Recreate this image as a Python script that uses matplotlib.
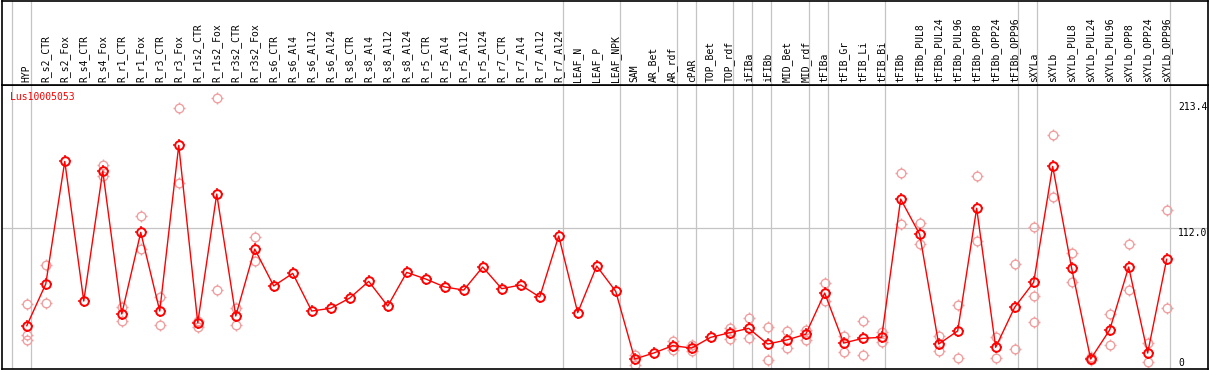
import matplotlib
matplotlib.use('Agg')
import matplotlib.pyplot as plt
from matplotlib.path import Path

# --- data ---
gene = "Lus10005053"

categories = [
    "HYP", "R_s2_CTR", "R_s2_Fox", "R_s4_CTR", "R_s4_Fox", "R_r1_CTR", "R_r1_Fox",
    "R_r3_CTR", "R_r3_Fox", "R_r1s2_CTR", "R_r1s2_Fox", "R_r3s2_CTR", "R_r3s2_Fox",
    "R_s6_CTR", "R_s6_Al4", "R_s6_Al12", "R_s6_Al24",
    "R_s8_CTR", "R_s8_Al4", "R_s8_Al12", "R_s8_Al24",
    "R_r5_CTR", "R_r5_Al4", "R_r5_Al12", "R_r5_Al24",
    "R_r7_CTR", "R_r7_Al4", "R_r7_Al12", "R_r7_Al24",
    "LEAF_N", "LEAF_P", "LEAF_NPK", "SAM", "AR_Bet", "AR_rdf", "cPAR",
    "TOP_Bet", "TOP_rdf", "iFIBa", "iFIBb", "MID_Bet", "MID_rdf",
    "tFIBa", "tFIB_Gr", "tFIB_Li", "tFIB_Bi",
    "tFIBb", "tFIBb_PUL8", "tFIBb_PUL24", "tFIBb_PUL96", "tFIBb_OPP8", "tFIBb_OPP24", "tFIBb_OPP96",
    "sXYLa", "sXYLb", "sXYLb_PUL8", "sXYLb_PUL24", "sXYLb_PUL96", "sXYLb_OPP8", "sXYLb_OPP24", "sXYLb_OPP96",
]

means = [
    33.9, 67.4, 165.7, 53.7, 158.0, 43.3, 108.8, 45.7, 178.6, 36.3, 139.5, 41.7, 95.4,
    65.8, 75.9, 45.7, 47.9, 56.1, 69.5, 49.7, 76.7, 71.4, 65.0, 62.5, 81.0,
    63.6, 66.6, 56.9, 105.9, 44.4, 81.8, 61.5, 7.2, 12.0, 17.9, 16.0,
    24.6, 28.3, 31.8, 19.2, 22.5, 27.0, 60.1, 20.0, 23.8, 24.6,
    135.5, 107.2, 19.2, 29.7, 128.1, 16.6, 48.7,
    68.7, 161.7, 80.0, 7.2, 30.5, 81.0, 12.0, 87.2,
]

replicates = [
    [51.1, 26.5, 22.5], [82.6, 52.1], [], [], [162.8, 154.0], [48.7, 37.7], [121.6, 95.2],
    [56.9, 34.5], [208.3, 148.1], [37.7, 33.1], [216.3, 62.3], [48.4, 34.7], [105.0, 85.6],
    [], [], [], [], [], [], [], [], [], [], [], [],
    [], [], [], [], [], [], [], [10.4, 2.4], [], [21.9, 14.4], [18.7, 13.4],
    [], [32.1, 23.5], [39.9, 23.8], [32.6, 6.4], [29.7, 15.8], [30.5, 22.7],
    [67.9, 53.7], [25.7, 12.6], [37.7, 10.2], [29.1, 20.6],
    [156.1, 115.2], [116.0, 99.2], [25.7, 13.4], [50.3, 8.0], [153.7, 101.6], [24.9, 8.0], [83.4, 15.2],
    [113.1, 57.5, 36.6], [186.8, 136.9], [92.2, 68.7], [8.6, 6.4], [43.3, 18.2], [99.2, 62.3],
    [20.3, 4.6], [126.5, 47.9],
]

# first category of each separated group (last entry closes the table)
group_starts = [0, 1, 29, 32, 35, 36, 38, 39, 40, 42, 43, 46, 53, 54, 61]
ytick_vals = [213.4, 112.0]

# --- layout ---
W, H = 1209, 370
fig = plt.figure(figsize=(W / 100, H / 100), dpi=100)

def box(l, t, r, b):
    return [l / W, 1 - b / H, (r - l) / W, (b - t) / H]

ax = fig.add_axes(box(1.5, 85, 1207.5, 368.5))
hx = fig.add_axes(box(1.5, 0.5, 1207.5, 85), sharex=ax)

mono = "DejaVu Sans Mono"
red = "#ff0000"
pink = "#f0a0a0"
grid = "#c4c4c4"

# four little ticks around the circle markers
ticks = Path([(0, 0.72), (0, 1), (0, -0.72), (0, -1), (0.72, 0), (1, 0), (-0.72, 0), (-1, 0)],
             [Path.MOVETO, Path.LINETO] * 4)
circ_ms = 6.2
tick_ms = 8.6

x = list(range(len(categories)))
xr = [i for i, reps in enumerate(replicates) for _ in reps]
yr = [v for reps in replicates for v in reps]

for g in group_starts:
    ax.axvline(g - 0.8, color=grid, lw=0.9, zorder=0)
    hx.axvline(g - 0.8, color=grid, lw=0.9, zorder=0)
ax.axhline(ytick_vals[1], color=grid, lw=0.9, zorder=0)

ax.plot(xr, yr, ls='none', marker='o', ms=circ_ms, mfc='none', mec=pink, mew=1.0, zorder=2)
ax.plot(xr, yr, ls='none', marker=ticks, ms=tick_ms, mec=pink, mew=1.0, zorder=2)
ax.plot(x, means, color=red, lw=1.0, zorder=3)
ax.plot(x, means, ls='none', marker='o', ms=circ_ms, mfc='none', mec=red, mew=1.4, zorder=4)
ax.plot(x, means, ls='none', marker=ticks, ms=tick_ms, mec=red, mew=1.1, zorder=4)

ax.set_xlim(-1.33, 62.15)
ax.set_ylim(-0.4, 227)

ytr = ax.get_yaxis_transform()
for v in ytick_vals:
    ax.text(0.9755, v, f"{v:.1f}", transform=ytr, ha='left', va='top', fontsize=7, family=mono)
ax.text(0.9755, 0, "0", transform=ytr, ha='left', va='bottom', fontsize=7, family=mono)

ax.text(0.007, 0.956, gene, transform=ax.transAxes, ha='left', va='center',
        fontsize=7, family=mono, color=red)

hx.set_ylim(0, 1)
for i, c in enumerate(categories):
    hx.text(i, 0.03, c, rotation=90, ha='center', va='bottom', fontsize=7, family=mono)

for a in (ax, hx):
    a.tick_params(left=False, bottom=False, labelleft=False, labelbottom=False)
    for s in a.spines.values():
        s.set_linewidth(1.2)

fig.savefig('out.png', dpi=100)
